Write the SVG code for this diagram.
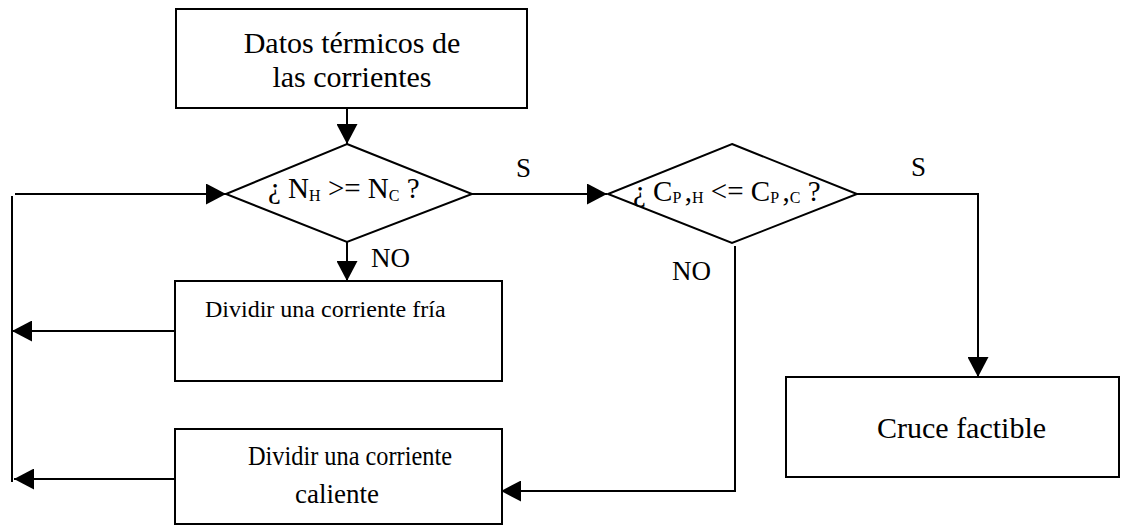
<svg xmlns="http://www.w3.org/2000/svg" width="1134" height="525" viewBox="0 0 1134 525">
  <defs>
    <marker id="arrow" markerUnits="userSpaceOnUse" markerWidth="20" markerHeight="21" refX="20" refY="10.5" orient="auto" viewBox="0 0 20 21">
      <path d="M0,0 L20,10.5 L0,21 z" fill="#000"/>
    </marker>
    <style>
      .shape { fill: #fff; stroke: #000; stroke-width: 2; }
      .wire { fill: none; stroke: #000; stroke-width: 2; }
      .arr { marker-end: url(#arrow); }
      text { font-family: "Liberation Serif", "Times New Roman", serif; fill: #000; }
      .big { font-size: 30px; }
      .mid { font-size: 27px; }
      .small { font-size: 24px; }
      .q { font-size: 29px; }
      .sub { font-size: 16px; }
    </style>
  </defs>

  <rect width="1134" height="525" fill="#fff"/>

  <!-- connectors -->
  <g id="connectors">
    <line class="wire arr" x1="347" y1="108" x2="347" y2="144"/>
    <line class="wire arr" x1="347" y1="242" x2="347" y2="281"/>
    <line class="wire arr" x1="472" y1="194" x2="607" y2="194"/>
    <polyline class="wire arr" points="857,194 978,194 978,377"/>
    <polyline class="wire arr" points="735,246 735,491 501,491"/>
    <line class="wire arr" x1="175" y1="331" x2="12" y2="331"/>
    <line class="wire arr" x1="180" y1="479" x2="14" y2="479"/>
    <line class="wire" x1="12" y1="196" x2="12" y2="482"/>
    <line class="wire arr" x1="15" y1="194" x2="226" y2="194"/>
    <text class="mid" x="516" y="177">S</text>
    <text class="mid" x="911" y="176">S</text>
    <text class="mid" x="371" y="267">NO</text>
    <text class="mid" x="672" y="280">NO</text>
  </g>

  <!-- process start -->
  <g id="datos">
    <rect class="shape" x="176" y="9" width="351" height="99"/>
    <text class="big" x="352" y="53" text-anchor="middle">Datos térmicos de</text>
    <text class="big" x="352" y="87" text-anchor="middle">las corrientes</text>
  </g>

  <!-- decision: number of streams -->
  <g id="decision-n">
    <polygon class="shape" points="347,144 472,194 347,242 226,194"/>
    <text class="q" x="268" y="198">¿ N<tspan class="sub" dy="3">H</tspan><tspan dy="-3"> &gt;= N</tspan><tspan class="sub" dy="3">C</tspan><tspan dy="-3"> ?</tspan></text>
  </g>

  <!-- decision: heat capacity flow rates -->
  <g id="decision-cp">
    <polygon class="shape" points="732,144 857,194 732,243 608,194"/>
    <text class="q" x="633" y="201">¿ C<tspan class="sub" dy="2">P </tspan><tspan dy="-2">,</tspan><tspan class="sub" dy="2">H</tspan><tspan dy="-2"> &lt;= C</tspan><tspan class="sub" dy="2">P </tspan><tspan dy="-2">,</tspan><tspan class="sub" dy="2">C</tspan><tspan dy="-2"> ?</tspan></text>
  </g>

  <g id="dividir-fria">
    <rect class="shape" x="175" y="281" width="327" height="100"/>
    <text class="small" x="205" y="317">Dividir una corriente fría</text>
  </g>

  <g id="dividir-caliente">
    <rect class="shape" x="175" y="429" width="327" height="95"/>
    <text class="mid" x="248" y="465" textLength="204" lengthAdjust="spacingAndGlyphs">Dividir una corriente</text>
    <text class="mid" x="295" y="503">caliente</text>
  </g>

  <g id="cruce">
    <rect class="shape" x="786" y="377" width="333" height="100"/>
    <text class="big" x="877" y="438">Cruce factible</text>
  </g>
</svg>
